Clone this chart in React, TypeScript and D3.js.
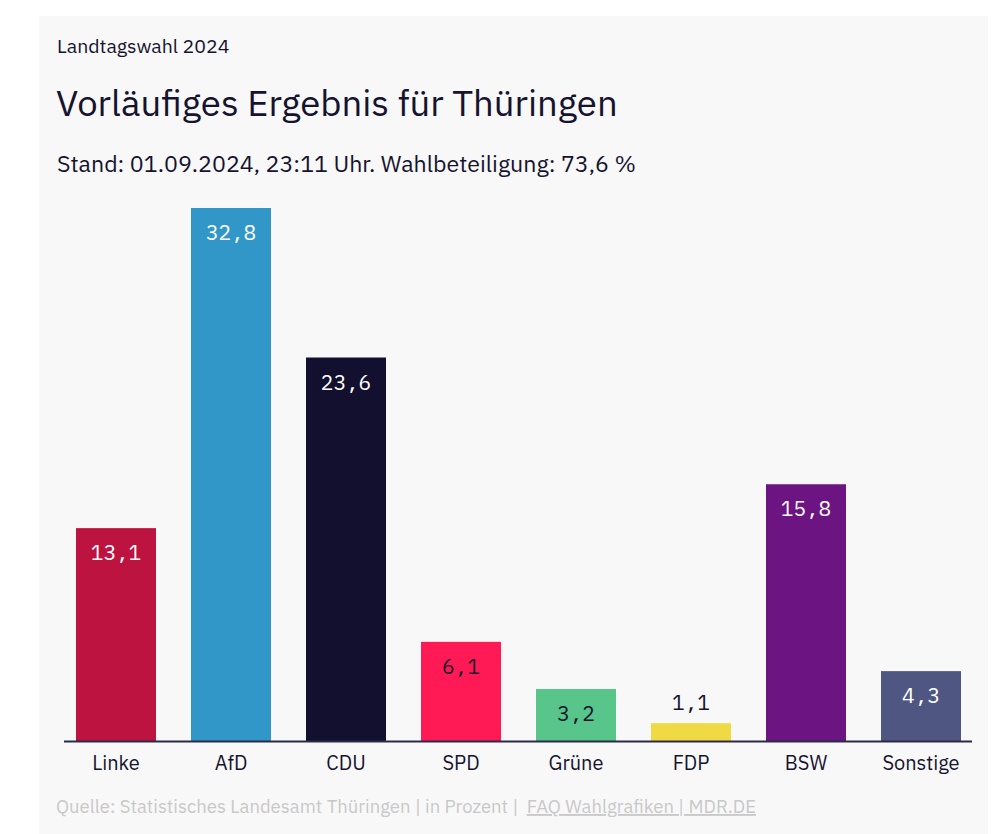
import React from "react";
import * as d3 from "d3";

const parties = ["Linke", "AfD", "CDU", "SPD", "Grüne", "FDP", "BSW", "Sonstige"];
const values = [13.1, 32.8, 23.6, 6.1, 3.2, 1.1, 15.8, 4.3];
const colors = ["#bc1340", "#3196c8", "#12102e", "#ff1a55", "#58c68b", "#f0da43", "#6c1481", "#4f5681"];
const darkLabel = [false, false, false, true, true, true, false, false];

const kicker = "Landtagswahl 2024";
const title = "Vorläufiges Ergebnis für Thüringen";
const subtitle = "Stand: 01.09.2024, 23:11 Uhr. Wahlbeteiligung: 73,6 %";
const source = "Quelle: Statistisches Landesamt Thüringen | in Prozent | ";
const linkText = "FAQ Wahlgrafiken | MDR.DE";

const W = 1000;
const H = 834;
const SANS = "'IBM Plex Sans', Roboto, 'Noto Sans', sans-serif";
const MONO = "'IBM Plex Mono', 'DejaVu Sans Mono', 'Liberation Mono', monospace";
const INK = "#15132f";

export default function App() {
  const x = d3
    .scaleBand<string>()
    .domain(parties)
    .range([58.5, 978.5])
    .paddingInner(35 / 115)
    .paddingOuter(17.5 / 115);
  const baseline = 741;
  const y = d3
    .scaleLinear()
    .domain([0, d3.max(values) as number])
    .range([baseline, 208]);
  const fmt = (v: number) => v.toFixed(1).replace(".", ",");

  return (
    <div style={{ position: "absolute", left: 0, top: 0 }}>
      <svg width={W} height={H} style={{ display: "block" }}>
        <rect x={0} y={0} width={W} height={H} fill="#ffffff" />
        <rect x={39} y={16} width={949} height={H - 16} fill="#f8f8f8" />
        <text x={57} y={53} fontFamily={SANS} fontSize={19.5} fill={INK}>
          {kicker}
        </text>
        <text x={56} y={116} fontFamily={SANS} fontSize={36.5} fill={INK}>
          {title}
        </text>
        <text x={57} y={172} fontFamily={SANS} fontSize={23.2} fill={INK}>
          {subtitle}
        </text>
        {parties.map((p, i) => {
          const v = values[i];
          const bx = x(p) as number;
          const bw = x.bandwidth();
          const top = y(v);
          const h = baseline - top;
          const inside = h > 40;
          const ly = inside ? top + 32 : top - 13;
          return (
            <g key={p}>
              <rect x={bx} y={top} width={bw} height={h} fill={colors[i]} />
              <text
                x={bx + bw / 2}
                y={ly}
                textAnchor="middle"
                fontFamily={MONO}
                fontSize={21}
                fill={darkLabel[i] ? INK : "#ffffff"}
              >
                {fmt(v)}
              </text>
              <text
                x={bx + bw / 2}
                y={770}
                textAnchor="middle"
                fontFamily={SANS}
                fontSize={20}
                fill={INK}
              >
                {p}
              </text>
            </g>
          );
        })}
        <line x1={64} x2={972} y1={baseline + 0.5} y2={baseline + 0.5} stroke="#2c2b47" strokeWidth={2} />
        <text x={56} y={813} fontFamily={SANS} fontSize={18.5} fill="#c8c8c8">
          {source}
          <tspan dx={4} textDecoration="underline">
            {linkText}
          </tspan>
        </text>
      </svg>
    </div>
  );
}
